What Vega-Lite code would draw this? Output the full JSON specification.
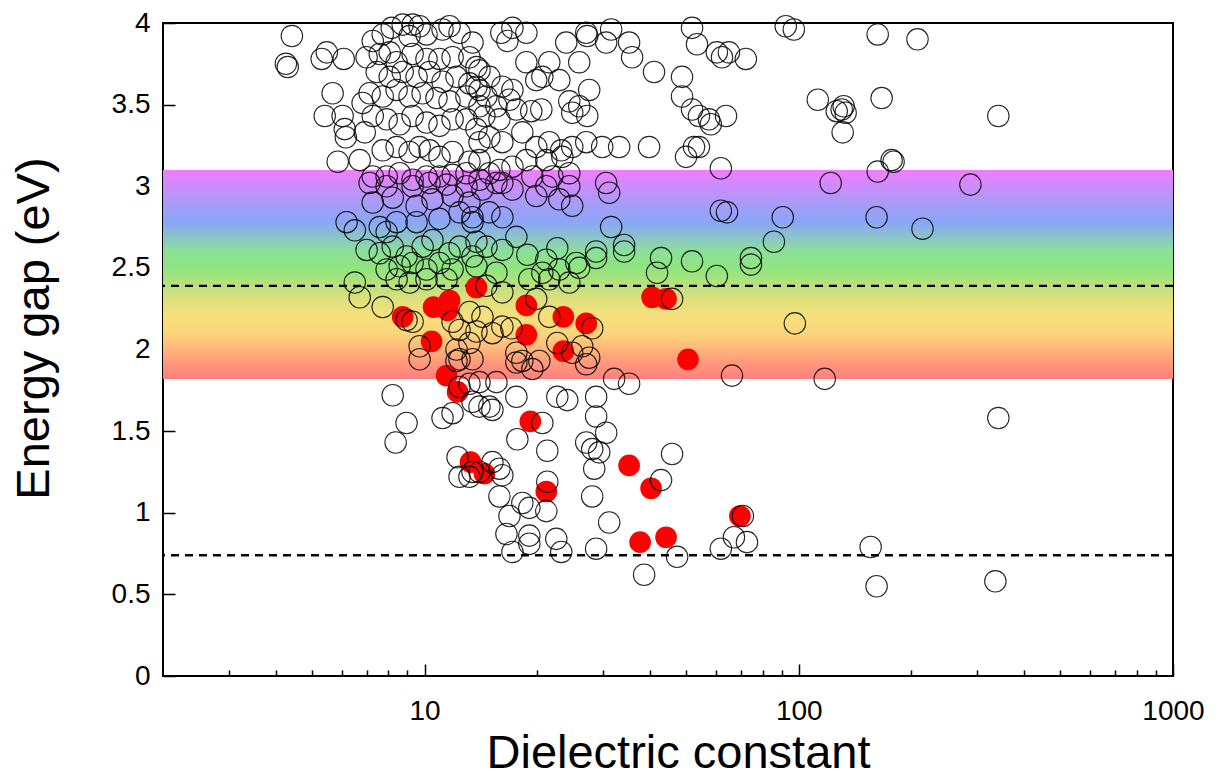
{
  "$schema": "https://vega.github.io/schema/vega-lite/v6.json",
  "width": 1010,
  "height": 653,
  "autosize": {"type": "none"},
  "padding": {"left": 163, "top": 23, "right": 50, "bottom": 101},
  "background": "white",
  "config": {
    "view": {"stroke": "black", "strokeWidth": 2},
    "font": "Liberation Sans"
  },
  "datasets": {
    "band": [{"lo": 1.82, "hi": 3.1}],
    "limits": [{"gap": 2.39}, {"gap": 0.74}],
    "red": [
      {"eps": 8.74, "gap": 2.20}, {"eps": 10.44, "gap": 2.05}, {"eps": 10.57, "gap": 2.26}, {"eps": 11.52, "gap": 2.24},
      {"eps": 11.66, "gap": 2.30}, {"eps": 13.76, "gap": 2.38}, {"eps": 11.45, "gap": 1.84}, {"eps": 12.25, "gap": 1.74},
      {"eps": 13.27, "gap": 1.31}, {"eps": 14.45, "gap": 1.24}, {"eps": 18.71, "gap": 2.27}, {"eps": 18.71, "gap": 2.09},
      {"eps": 23.49, "gap": 2.20}, {"eps": 27.04, "gap": 2.16}, {"eps": 23.49, "gap": 1.99}, {"eps": 19.17, "gap": 1.56},
      {"eps": 21.15, "gap": 1.13}, {"eps": 40.55, "gap": 2.32}, {"eps": 44.19, "gap": 2.31}, {"eps": 50.58, "gap": 1.94},
      {"eps": 35.2, "gap": 1.29}, {"eps": 40.3, "gap": 1.15}, {"eps": 37.67, "gap": 0.82}, {"eps": 44.19, "gap": 0.85},
      {"eps": 69.6, "gap": 0.98}
    ],
    "open": [
      {"eps": 4.42, "gap": 3.92}, {"eps": 4.26, "gap": 3.75}, {"eps": 4.31, "gap": 3.73}, {"eps": 5.31, "gap": 3.78},
      {"eps": 5.48, "gap": 3.82}, {"eps": 6.08, "gap": 3.78}, {"eps": 5.68, "gap": 3.57}, {"eps": 5.41, "gap": 3.43},
      {"eps": 6.04, "gap": 3.43}, {"eps": 6.12, "gap": 3.35}, {"eps": 6.16, "gap": 3.30}, {"eps": 5.86, "gap": 3.15},
      {"eps": 6.83, "gap": 3.51}, {"eps": 6.92, "gap": 3.33}, {"eps": 6.71, "gap": 3.16},
      {"eps": 7.27, "gap": 3.89}, {"eps": 7.73, "gap": 3.93}, {"eps": 8.17, "gap": 3.97}, {"eps": 8.74, "gap": 3.99},
      {"eps": 9.29, "gap": 3.99}, {"eps": 9.70, "gap": 3.98}, {"eps": 9.12, "gap": 3.92}, {"eps": 10.12, "gap": 3.93},
      {"eps": 11.17, "gap": 3.96}, {"eps": 11.66, "gap": 3.98}, {"eps": 12.40, "gap": 3.94}, {"eps": 13.43, "gap": 3.88},
      {"eps": 7.00, "gap": 3.79}, {"eps": 7.59, "gap": 3.81}, {"eps": 8.07, "gap": 3.82}, {"eps": 8.42, "gap": 3.76},
      {"eps": 9.29, "gap": 3.81}, {"eps": 10.12, "gap": 3.78}, {"eps": 10.96, "gap": 3.78}, {"eps": 11.88, "gap": 3.79},
      {"eps": 13.18, "gap": 3.79}, {"eps": 13.76, "gap": 3.73},
      {"eps": 7.45, "gap": 3.70}, {"eps": 8.07, "gap": 3.67}, {"eps": 8.74, "gap": 3.70}, {"eps": 9.52, "gap": 3.67},
      {"eps": 10.31, "gap": 3.70}, {"eps": 11.17, "gap": 3.64}, {"eps": 12.17, "gap": 3.67}, {"eps": 13.18, "gap": 3.63},
      {"eps": 14.02, "gap": 3.59},
      {"eps": 7.13, "gap": 3.57}, {"eps": 7.73, "gap": 3.55}, {"eps": 8.42, "gap": 3.59}, {"eps": 9.12, "gap": 3.55},
      {"eps": 9.88, "gap": 3.57}, {"eps": 10.76, "gap": 3.54}, {"eps": 11.66, "gap": 3.52}, {"eps": 12.94, "gap": 3.55},
      {"eps": 14.02, "gap": 3.49},
      {"eps": 7.27, "gap": 3.43}, {"eps": 7.92, "gap": 3.41}, {"eps": 8.58, "gap": 3.38}, {"eps": 9.29, "gap": 3.43},
      {"eps": 10.12, "gap": 3.39}, {"eps": 10.96, "gap": 3.37}, {"eps": 11.88, "gap": 3.41}, {"eps": 12.94, "gap": 3.41},
      {"eps": 13.76, "gap": 3.35},
      {"eps": 7.73, "gap": 3.22}, {"eps": 8.42, "gap": 3.24}, {"eps": 9.12, "gap": 3.21}, {"eps": 9.70, "gap": 3.24},
      {"eps": 10.31, "gap": 3.22}, {"eps": 10.96, "gap": 3.18}, {"eps": 11.88, "gap": 3.21}, {"eps": 13.18, "gap": 3.15},
      {"eps": 14.02, "gap": 3.27},
      {"eps": 7.27, "gap": 3.06}, {"eps": 7.92, "gap": 3.06}, {"eps": 8.58, "gap": 3.08}, {"eps": 9.29, "gap": 3.04},
      {"eps": 10.12, "gap": 3.06}, {"eps": 10.96, "gap": 3.06}, {"eps": 11.88, "gap": 3.07}, {"eps": 12.94, "gap": 3.08},
      {"eps": 14.02, "gap": 3.04},
      {"eps": 16.04, "gap": 3.94}, {"eps": 17.17, "gap": 3.97}, {"eps": 18.71, "gap": 3.94}, {"eps": 16.65, "gap": 3.89},
      {"eps": 18.71, "gap": 3.76}, {"eps": 21.54, "gap": 3.76}, {"eps": 23.91, "gap": 3.88}, {"eps": 27.04, "gap": 3.94},
      {"eps": 27.21, "gap": 3.92}, {"eps": 31.52, "gap": 3.96}, {"eps": 30.57, "gap": 3.88}, {"eps": 35.2, "gap": 3.88},
      {"eps": 35.86, "gap": 3.79}, {"eps": 41.04, "gap": 3.70}, {"eps": 48.75, "gap": 3.67}, {"eps": 51.85, "gap": 3.97},
      {"eps": 53.46, "gap": 3.87}, {"eps": 60.4, "gap": 3.82}, {"eps": 25.9, "gap": 3.76}, {"eps": 22.91, "gap": 3.65},
      {"eps": 20.64, "gap": 3.67}, {"eps": 19.88, "gap": 3.65}, {"eps": 14.02, "gap": 3.71}, {"eps": 14.9, "gap": 3.67},
      {"eps": 16.14, "gap": 3.61}, {"eps": 17.17, "gap": 3.59}, {"eps": 13.76, "gap": 3.61}, {"eps": 14.63, "gap": 3.55},
      {"eps": 15.56, "gap": 3.49}, {"eps": 16.86, "gap": 3.53}, {"eps": 14.45, "gap": 3.43}, {"eps": 15.85, "gap": 3.41},
      {"eps": 17.59, "gap": 3.47}, {"eps": 19.28, "gap": 3.46}, {"eps": 20.51, "gap": 3.47}, {"eps": 24.36, "gap": 3.52},
      {"eps": 25.9, "gap": 3.49}, {"eps": 27.21, "gap": 3.43}, {"eps": 27.54, "gap": 3.59}, {"eps": 24.81, "gap": 3.45},
      {"eps": 14.9, "gap": 3.30}, {"eps": 16.14, "gap": 3.27}, {"eps": 18.25, "gap": 3.33}, {"eps": 19.88, "gap": 3.24},
      {"eps": 21.54, "gap": 3.27}, {"eps": 23.19, "gap": 3.22}, {"eps": 24.81, "gap": 3.24}, {"eps": 27.04, "gap": 3.27},
      {"eps": 29.83, "gap": 3.24}, {"eps": 33.11, "gap": 3.24}, {"eps": 39.81, "gap": 3.24}, {"eps": 48.75, "gap": 3.55},
      {"eps": 51.85, "gap": 3.47}, {"eps": 57.54, "gap": 3.41}, {"eps": 49.97, "gap": 3.18}, {"eps": 52.48, "gap": 3.24},
      {"eps": 15.85, "gap": 3.10}, {"eps": 17.17, "gap": 3.12}, {"eps": 18.71, "gap": 3.16}, {"eps": 21.15, "gap": 3.16},
      {"eps": 23.34, "gap": 3.18}, {"eps": 14.02, "gap": 3.16}, {"eps": 14.9, "gap": 3.08}, {"eps": 16.14, "gap": 3.02},
      {"eps": 19.41, "gap": 3.06}, {"eps": 21.95, "gap": 3.06}, {"eps": 24.36, "gap": 3.08}, {"eps": 30.57, "gap": 3.02},
      {"eps": 65.06, "gap": 3.82}, {"eps": 62.34, "gap": 3.79}, {"eps": 72.2, "gap": 3.78}, {"eps": 92.3, "gap": 3.98},
      {"eps": 97.0, "gap": 3.96}, {"eps": 162.5, "gap": 3.93}, {"eps": 207.6, "gap": 3.90}, {"eps": 112.4, "gap": 3.53},
      {"eps": 126.3, "gap": 3.46}, {"eps": 131.8, "gap": 3.49}, {"eps": 133.4, "gap": 3.45}, {"eps": 130.2, "gap": 3.47},
      {"eps": 131.0, "gap": 3.33}, {"eps": 166.5, "gap": 3.54}, {"eps": 341.4, "gap": 3.43}, {"eps": 54.1, "gap": 3.43},
      {"eps": 58.2, "gap": 3.38}, {"eps": 63.9, "gap": 3.43}, {"eps": 54.1, "gap": 3.24}, {"eps": 61.9, "gap": 3.11},
      {"eps": 121.7, "gap": 3.02}, {"eps": 162.5, "gap": 3.09}, {"eps": 179.2, "gap": 3.15}, {"eps": 177.0, "gap": 3.16},
      {"eps": 287.5, "gap": 3.01}, {"eps": 61.9, "gap": 2.85}, {"eps": 64.3, "gap": 2.84}, {"eps": 90.6, "gap": 2.81},
      {"eps": 85.8, "gap": 2.66}, {"eps": 161.4, "gap": 2.81}, {"eps": 214.1, "gap": 2.74}, {"eps": 74.5, "gap": 2.56},
      {"eps": 7.13, "gap": 3.02}, {"eps": 7.92, "gap": 3.00}, {"eps": 9.29, "gap": 3.00}, {"eps": 10.31, "gap": 3.02},
      {"eps": 11.45, "gap": 3.01}, {"eps": 12.94, "gap": 3.00}, {"eps": 7.27, "gap": 2.90}, {"eps": 8.22, "gap": 2.93},
      {"eps": 9.52, "gap": 2.88}, {"eps": 10.50, "gap": 2.92}, {"eps": 11.88, "gap": 2.94}, {"eps": 13.18, "gap": 2.90},
      {"eps": 6.19, "gap": 2.78}, {"eps": 6.51, "gap": 2.73}, {"eps": 7.59, "gap": 2.75}, {"eps": 7.92, "gap": 2.72},
      {"eps": 8.42, "gap": 2.78}, {"eps": 9.52, "gap": 2.78}, {"eps": 10.96, "gap": 2.80}, {"eps": 12.40, "gap": 2.84},
      {"eps": 13.43, "gap": 2.78}, {"eps": 7.00, "gap": 2.61}, {"eps": 7.59, "gap": 2.59}, {"eps": 8.22, "gap": 2.63},
      {"eps": 8.95, "gap": 2.57}, {"eps": 9.88, "gap": 2.63}, {"eps": 10.50, "gap": 2.67}, {"eps": 11.66, "gap": 2.59},
      {"eps": 12.40, "gap": 2.63}, {"eps": 13.43, "gap": 2.57}, {"eps": 7.92, "gap": 2.49}, {"eps": 8.58, "gap": 2.51},
      {"eps": 9.29, "gap": 2.53}, {"eps": 10.12, "gap": 2.49}, {"eps": 11.88, "gap": 2.49}, {"eps": 10.96, "gap": 2.53},
      {"eps": 6.51, "gap": 2.41}, {"eps": 6.71, "gap": 2.32}, {"eps": 7.73, "gap": 2.26}, {"eps": 8.42, "gap": 2.43},
      {"eps": 9.12, "gap": 2.41}, {"eps": 10.12, "gap": 2.43}, {"eps": 11.45, "gap": 2.43}, {"eps": 8.95, "gap": 2.18},
      {"eps": 9.29, "gap": 2.17}, {"eps": 11.88, "gap": 2.17}, {"eps": 12.40, "gap": 2.12}, {"eps": 9.70, "gap": 2.02},
      {"eps": 12.17, "gap": 2.00}, {"eps": 13.18, "gap": 2.04}, {"eps": 12.40, "gap": 1.94}, {"eps": 13.43, "gap": 1.94},
      {"eps": 14.28, "gap": 2.98}, {"eps": 15.56, "gap": 3.02}, {"eps": 17.17, "gap": 2.98}, {"eps": 19.88, "gap": 2.94},
      {"eps": 21.15, "gap": 3.00}, {"eps": 24.36, "gap": 3.00}, {"eps": 24.81, "gap": 2.88}, {"eps": 22.91, "gap": 2.92},
      {"eps": 31.14, "gap": 2.96}, {"eps": 13.43, "gap": 2.81}, {"eps": 14.9, "gap": 2.84}, {"eps": 16.14, "gap": 2.81},
      {"eps": 31.52, "gap": 2.75}, {"eps": 13.76, "gap": 2.66}, {"eps": 14.63, "gap": 2.63}, {"eps": 16.14, "gap": 2.61},
      {"eps": 17.59, "gap": 2.69}, {"eps": 18.83, "gap": 2.58}, {"eps": 21.15, "gap": 2.55}, {"eps": 22.63, "gap": 2.62},
      {"eps": 25.43, "gap": 2.53}, {"eps": 28.74, "gap": 2.60}, {"eps": 28.74, "gap": 2.56}, {"eps": 34.14, "gap": 2.64},
      {"eps": 34.14, "gap": 2.60}, {"eps": 42.85, "gap": 2.56}, {"eps": 41.8, "gap": 2.47}, {"eps": 51.85, "gap": 2.54},
      {"eps": 60.4, "gap": 2.45}, {"eps": 13.76, "gap": 2.51}, {"eps": 15.56, "gap": 2.47}, {"eps": 19.05, "gap": 2.43},
      {"eps": 20.64, "gap": 2.47}, {"eps": 21.54, "gap": 2.43}, {"eps": 22.91, "gap": 2.49}, {"eps": 24.36, "gap": 2.41},
      {"eps": 25.9, "gap": 2.50}, {"eps": 14.63, "gap": 2.39}, {"eps": 16.14, "gap": 2.35}, {"eps": 19.88, "gap": 2.31},
      {"eps": 21.54, "gap": 2.20}, {"eps": 45.85, "gap": 2.31}, {"eps": 13.18, "gap": 2.23}, {"eps": 14.28, "gap": 2.20},
      {"eps": 13.76, "gap": 2.11}, {"eps": 15.18, "gap": 2.10}, {"eps": 16.14, "gap": 2.14}, {"eps": 17.06, "gap": 2.13},
      {"eps": 28.05, "gap": 2.13}, {"eps": 22.63, "gap": 2.04}, {"eps": 26.38, "gap": 2.02}, {"eps": 17.59, "gap": 1.98},
      {"eps": 18.25, "gap": 1.93}, {"eps": 27.54, "gap": 1.95}, {"eps": 24.81, "gap": 1.98}, {"eps": 20.26, "gap": 1.93},
      {"eps": 9.70, "gap": 1.94}, {"eps": 12.17, "gap": 1.93}, {"eps": 8.22, "gap": 1.72}, {"eps": 8.95, "gap": 1.55},
      {"eps": 8.37, "gap": 1.43}, {"eps": 11.17, "gap": 1.58}, {"eps": 11.88, "gap": 1.61}, {"eps": 12.40, "gap": 1.77},
      {"eps": 13.18, "gap": 1.79}, {"eps": 13.43, "gap": 1.68}, {"eps": 14.02, "gap": 1.65}, {"eps": 12.25, "gap": 1.34},
      {"eps": 12.40, "gap": 1.22}, {"eps": 13.18, "gap": 1.22}, {"eps": 13.43, "gap": 1.25}, {"eps": 14.02, "gap": 1.25},
      {"eps": 17.59, "gap": 1.92}, {"eps": 19.41, "gap": 1.88}, {"eps": 27.04, "gap": 1.91}, {"eps": 32.1, "gap": 1.82},
      {"eps": 35.2, "gap": 1.79}, {"eps": 14.02, "gap": 1.80}, {"eps": 15.56, "gap": 1.80}, {"eps": 14.9, "gap": 1.65},
      {"eps": 17.59, "gap": 1.71}, {"eps": 15.18, "gap": 1.63}, {"eps": 22.63, "gap": 1.71}, {"eps": 24.06, "gap": 1.69},
      {"eps": 28.74, "gap": 1.71}, {"eps": 28.74, "gap": 1.59}, {"eps": 20.64, "gap": 1.55}, {"eps": 17.70, "gap": 1.45},
      {"eps": 21.28, "gap": 1.38}, {"eps": 30.57, "gap": 1.49}, {"eps": 27.04, "gap": 1.43}, {"eps": 28.05, "gap": 1.39},
      {"eps": 29.29, "gap": 1.37}, {"eps": 28.4, "gap": 1.27}, {"eps": 15.18, "gap": 1.31}, {"eps": 15.85, "gap": 1.27},
      {"eps": 16.14, "gap": 1.23}, {"eps": 15.85, "gap": 1.10}, {"eps": 21.28, "gap": 1.19}, {"eps": 18.25, "gap": 1.06},
      {"eps": 19.05, "gap": 1.03}, {"eps": 21.15, "gap": 1.01}, {"eps": 28.05, "gap": 1.10}, {"eps": 31.14, "gap": 0.94},
      {"eps": 16.86, "gap": 0.98}, {"eps": 16.55, "gap": 0.87}, {"eps": 19.05, "gap": 0.86}, {"eps": 22.49, "gap": 0.84},
      {"eps": 23.19, "gap": 0.76}, {"eps": 17.17, "gap": 0.76}, {"eps": 19.05, "gap": 0.81}, {"eps": 28.74, "gap": 0.78},
      {"eps": 45.85, "gap": 1.36}, {"eps": 42.85, "gap": 1.20}, {"eps": 47.3, "gap": 0.73}, {"eps": 38.61, "gap": 0.62},
      {"eps": 74.5, "gap": 2.52}, {"eps": 97.6, "gap": 2.16}, {"eps": 66.3, "gap": 1.84}, {"eps": 117.3, "gap": 1.82},
      {"eps": 341.4, "gap": 1.58}, {"eps": 70.9, "gap": 0.98}, {"eps": 67.1, "gap": 0.85}, {"eps": 72.7, "gap": 0.82},
      {"eps": 61.9, "gap": 0.78}, {"eps": 155.6, "gap": 0.79}, {"eps": 161.4, "gap": 0.55}, {"eps": 335.2, "gap": 0.58}
    ]
  },
  "layer": [
    {
      "data": {"name": "band"},
      "mark": {
        "type": "rect",
        "color": {
          "gradient": "linear",
          "x1": 0, "y1": 1, "x2": 0, "y2": 0,
          "stops": [
            {"offset": 0.0, "color": "#ff7f7f"},
            {"offset": 0.08, "color": "#ff9a7c"},
            {"offset": 0.14, "color": "#ffb57a"},
            {"offset": 0.22, "color": "#fcd67b"},
            {"offset": 0.30, "color": "#f6e07c"},
            {"offset": 0.38, "color": "#dee07d"},
            {"offset": 0.45, "color": "#b8e17d"},
            {"offset": 0.53, "color": "#8ee57e"},
            {"offset": 0.61, "color": "#8ce098"},
            {"offset": 0.69, "color": "#8abfd0"},
            {"offset": 0.75, "color": "#8aa6f7"},
            {"offset": 0.84, "color": "#a89cf8"},
            {"offset": 0.92, "color": "#cc8cfa"},
            {"offset": 1.0, "color": "#f27dff"}
          ]
        }
      },
      "encoding": {
        "x": {
          "datum": 2,
          "type": "quantitative",
          "scale": {"type": "log", "domain": [2, 1000], "nice": false},
          "axis": {
            "orient": "bottom",
            "values": [3, 4, 5, 6, 7, 8, 9, 20, 30, 40, 50, 60, 70, 80, 90, 200, 300, 400, 500, 600, 700, 800, 900],
            "labels": false,
            "domain": false,
            "grid": false,
            "tickSize": -6,
            "tickWidth": 1.5,
            "tickColor": "black",
            "title": null
          }
        },
        "x2": {"datum": 1000},
        "y": {
          "field": "lo",
          "type": "quantitative",
          "scale": {"domain": [0, 4], "nice": false},
          "title": "Energy gap (eV)",
          "axis": {
            "orient": "left",
            "values": [0, 0.5, 1, 1.5, 2, 2.5, 3, 3.5, 4],
            "format": ".1~f",
            "domain": false,
            "grid": false,
            "tickSize": -12,
            "tickWidth": 1.5,
            "tickColor": "black",
            "labelFont": "Liberation Sans",
            "labelFontSize": 28,
            "labelColor": "black",
            "labelPadding": 25,
            "labelFlush": false,
            "labelOverlap": false,
            "titleFont": "Liberation Sans",
            "titleFontSize": 47,
            "titleFontWeight": "normal",
            "titleColor": "black",
            "titleAngle": -90,
            "titleAlign": "center",
            "titleBaseline": "alphabetic",
            "titleX": -115,
            "titleY": 305
          }
        },
        "y2": {"field": "hi"}
      }
    },
    {
      "data": {"name": "limits"},
      "mark": {"type": "rule", "color": "black", "strokeWidth": 2.4, "strokeDash": [8, 6]},
      "encoding": {
        "y": {"field": "gap", "type": "quantitative"}
      }
    },
    {
      "data": {"name": "red"},
      "mark": {"type": "point", "shape": "circle", "filled": true, "color": "#ff0000", "opacity": 1, "size": 470, "strokeWidth": 0},
      "encoding": {
        "x": {"field": "eps", "type": "quantitative", "axis": null},
        "y": {"field": "gap", "type": "quantitative"}
      }
    },
    {
      "data": {"name": "open"},
      "mark": {"type": "point", "shape": "circle", "filled": false, "stroke": "black", "strokeWidth": 1.1, "strokeOpacity": 0.85, "opacity": 1, "size": 460},
      "encoding": {
        "x": {
          "field": "eps",
          "type": "quantitative",
          "title": "Dielectric constant",
          "axis": {
            "orient": "bottom",
            "values": [10, 100, 1000],
            "format": "d",
            "domain": false,
            "grid": false,
            "tickSize": -12,
            "tickWidth": 1.5,
            "tickColor": "black",
            "labelFont": "Liberation Sans",
            "labelFontSize": 28,
            "labelColor": "black",
            "labelBaseline": "alphabetic",
            "labelPadding": 55,
            "labelDx": 7,
            "labelFlush": false,
            "labelOverlap": false,
            "titleFont": "Liberation Sans",
            "titleFontSize": 47,
            "titleFontWeight": "normal",
            "titleColor": "black",
            "titleAlign": "center",
            "titleBaseline": "alphabetic",
            "titleX": 515,
            "titleY": 91
          }
        },
        "y": {"field": "gap", "type": "quantitative"}
      }
    }
  ],
  "resolve": {"axis": {"x": "independent"}}
}
